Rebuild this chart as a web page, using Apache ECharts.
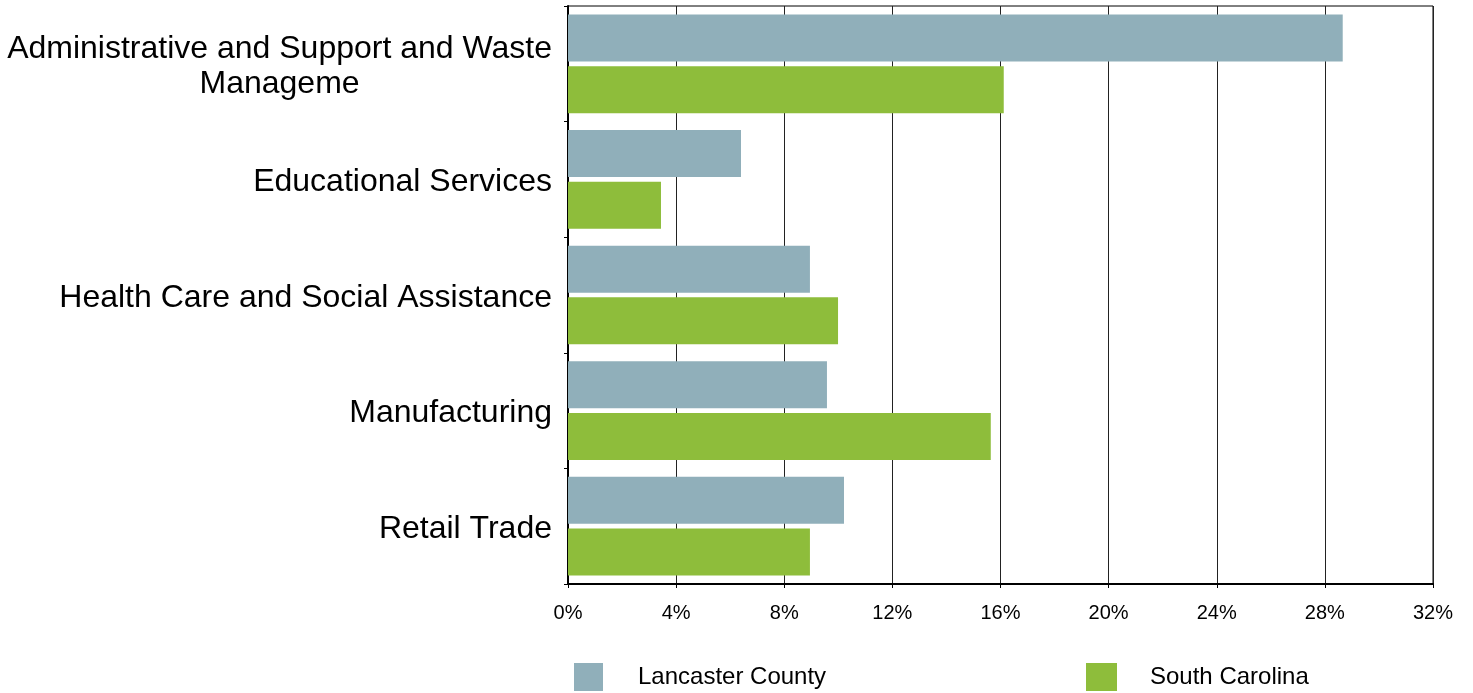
<!DOCTYPE html>
<html>
<head>
<meta charset="utf-8">
<script src="https://cdn.jsdelivr.net/npm/echarts@6/dist/echarts.min.js"></script>
<style>html,body{margin:0;padding:0;background:#fff;}#chart{width:1473px;height:693px;}</style>
</head>
<body>
<div id="chart"></div>
<script>
var categories = ['Administrative and Support and Waste\nManageme', 'Educational Services', 'Health Care and Social Assistance', 'Manufacturing', 'Retail Trade'];
var seriesNames = ['Lancaster County', 'South Carolina'];
var lancaster = [28.66, 6.40, 8.95, 9.58, 10.21];
var southCarolina = [16.12, 3.44, 9.99, 15.64, 8.95];
var xTicks = [0, 4, 8, 12, 16, 20, 24, 28, 32];

var FONT = "'Liberation Sans', Arial, Helvetica, sans-serif";
var chart = echarts.init(document.getElementById('chart'));
chart.setOption({
  animation: false,
  backgroundColor: '#fff',
  grid: { left: 568, right: 40, top: 6, bottom: 109, show: true, borderColor: '#000', borderWidth: 1 },
  xAxis: {
    type: 'value', min: xTicks[0], max: xTicks[xTicks.length - 1], interval: 4,
    axisLine: { show: true, lineStyle: { color: '#000', width: 2 } },
    axisTick: { show: true, length: 4, lineStyle: { color: '#000' } },
    splitLine: { show: true, lineStyle: { color: '#222', width: 1 } },
    axisLabel: { formatter: '{value}%', color: '#000', fontSize: 20, fontFamily: FONT, margin: 19 }
  },
  yAxis: {
    type: 'category', data: categories, inverse: true,
    axisLine: { show: true, lineStyle: { color: '#000', width: 2 } },
    axisTick: { show: true, length: 4, lineStyle: { color: '#000' } },
    axisLabel: {
      color: '#000', fontSize: 32, fontFamily: FONT, margin: 16, lineHeight: 35, padding: [6, 0, 0, 0],
      formatter: function (v) {
        var lines = v.split('\n');
        if (lines.length === 1) return v;
        return lines.map(function (l) { return '{c|' + l + '}'; }).join('\n');
      },
      rich: { c: { align: 'center', fontSize: 32, fontFamily: FONT, color: '#000', lineHeight: 35 } }
    }
  },
  legend: [
    { data: [seriesNames[0]], left: 574, top: 663, padding: 0, itemWidth: 29, itemHeight: 28, icon: 'rect',
      textStyle: { fontSize: 24, fontFamily: FONT, color: '#000', padding: [6, 0, 0, 30] } },
    { data: [seriesNames[1]], left: 1086, top: 663, padding: 0, itemWidth: 31, itemHeight: 28, icon: 'rect',
      textStyle: { fontSize: 24, fontFamily: FONT, color: '#000', padding: [6, 0, 0, 28] } }
  ],
  series: [
    { name: seriesNames[0], type: 'bar', data: lancaster, barWidth: 47, barGap: '10%', itemStyle: { color: '#90AFBA' } },
    { name: seriesNames[1], type: 'bar', data: southCarolina, barWidth: 47, barGap: '10%', itemStyle: { color: '#8EBD3B' } }
  ]
});
</script>
</body>
</html>
